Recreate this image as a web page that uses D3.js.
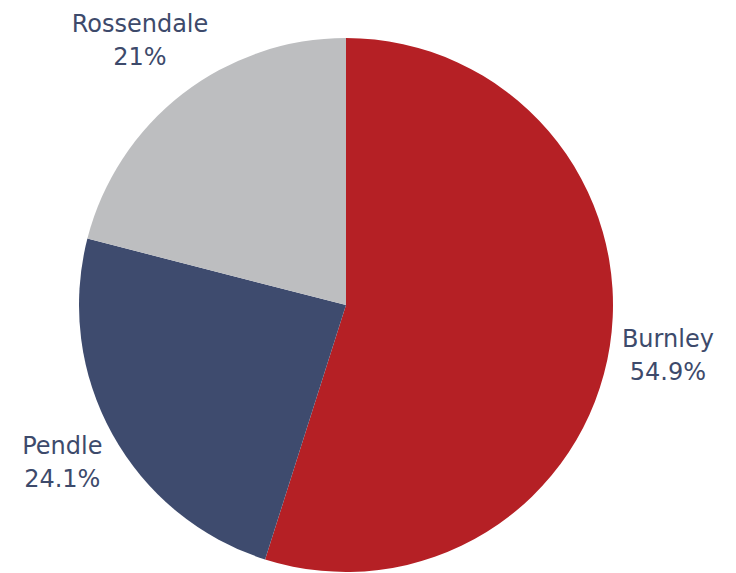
<!DOCTYPE html>
<html>
<head>
<meta charset="utf-8">
<script src="https://cdn.jsdelivr.net/npm/d3@7"></script>
<style>
  html, body { margin: 0; padding: 0; background: #ffffff; }
  svg { display: block; }
</style>
</head>
<body>
<svg id="chart" width="736" height="573"></svg>
<script>
// Share of total by district
const categories = ["Burnley", "Pendle", "Rossendale"];
const shares = [54.9, 24.1, 21];
const sliceColors = ["#b52025", "#3e4b6e", "#bdbec0"];

const width = 736, height = 573;
const cx = 346, cy = 305, radius = 267;
const fontSize = 24, lineGap = 33, capHeight = 0.73 * fontSize, labelGap = 10;

const svg = d3.select("#chart");
const g = svg.append("g").attr("transform", `translate(${cx},${cy})`);

const data = categories.map((c, i) => ({ name: c, value: shares[i], color: sliceColors[i] }));

const pie = d3.pie().value(d => d.value).sort(null).startAngle(0).endAngle(2 * Math.PI);
const arc = d3.arc().innerRadius(0).outerRadius(radius);
const arcs = pie(data);

g.selectAll("path.slice")
  .data(arcs)
  .join("path")
  .attr("class", "slice")
  .attr("d", arc)
  .attr("fill", d => d.data.color);

// Two-line outside labels, pushed out along the slice's mid-angle until clear of the circle
const labels = g.selectAll("text.label")
  .data(arcs)
  .join("text")
  .attr("class", "label")
  .attr("font-family", "'DejaVu Sans', Verdana, sans-serif")
  .attr("font-size", fontSize)
  .attr("fill", "#3d4a6b")
  .attr("text-anchor", "middle");

labels.append("tspan").attr("class", "l1").text(d => d.data.name);
labels.append("tspan").attr("class", "l2").text(d => `${d.data.value}%`);

labels.each(function (d) {
  const t = d3.select(this);
  const w1 = t.select(".l1").node().getComputedTextLength();
  const w2 = t.select(".l2").node().getComputedTextLength();
  const halfW = Math.max(w1, w2) / 2;
  const halfH = (capHeight + lineGap) / 2;
  const mid = (d.startAngle + d.endAngle) / 2;
  const dx = Math.sin(mid), dy = -Math.cos(mid);
  const target = radius + labelGap;
  const clearance = dist => {
    const nx = Math.max(0, Math.abs(dist * dx) - halfW);
    const ny = Math.max(0, Math.abs(dist * dy) - halfH);
    return Math.hypot(nx, ny);
  };
  let lo = 0, hi = radius * 3;
  for (let k = 0; k < 60; k++) {
    const m = (lo + hi) / 2;
    if (clearance(m) < target) lo = m; else hi = m;
  }
  const px = hi * dx, py = hi * dy;
  const base1 = py - halfH + capHeight;
  t.select(".l1").attr("x", px).attr("y", base1);
  t.select(".l2").attr("x", px).attr("y", base1 + lineGap);
});
</script>
</body>
</html>
